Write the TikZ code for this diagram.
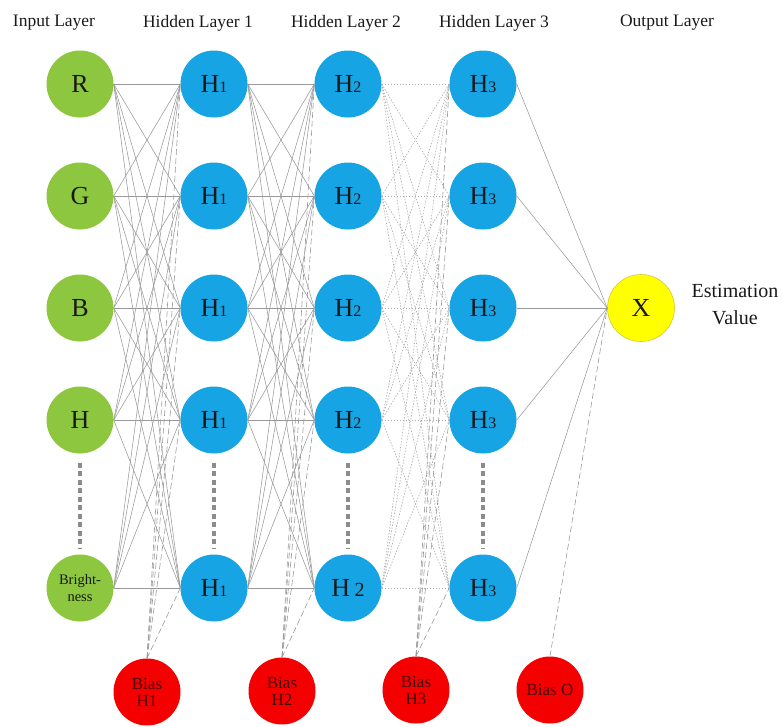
\documentclass[tikz,border=0pt]{standalone}
\usepackage{fontspec}
\setmainfont{Liberation Serif}
\definecolor{ngreen}{RGB}{141,198,63}
\definecolor{nblue}{RGB}{22,164,228}
\definecolor{nred}{RGB}{245,0,0}
\definecolor{nyellow}{RGB}{255,255,0}
\definecolor{nyeldraw}{RGB}{215,200,40}
\definecolor{ntext}{RGB}{25,25,25}
\definecolor{nbtext}{RGB}{70,10,10}
\newcommand{\Hs}[1]{H{\fontsize{16}{16}\selectfont #1}}
\begin{document}
\begin{tikzpicture}[x=1pt,y=-1pt,
  neuron/.style={circle, minimum size=67pt, inner sep=0pt, text=ntext, font=\fontsize{26}{26}\selectfont},
  inp/.style={neuron, fill=ngreen},
  hid/.style={neuron, fill=nblue},
  biasn/.style={neuron, fill=nred, align=center, text=nbtext, font=\fontsize{17}{17}\selectfont},
  outn/.style={neuron, fill=nyellow, draw=nyeldraw, line width=0.6pt},
  header/.style={text=ntext, font=\fontsize{17.5}{18}\selectfont},
  conn/.style={draw=gray!80, line width=0.55pt},
  bconn/.style={draw=gray!80, line width=0.6pt, dash pattern=on 6pt off 3pt},
  dconn/.style={draw=gray!65, line width=0.6pt, dash pattern=on 1.5pt off 1.5pt},
  vdots/.style={draw=gray!90, line width=3.2pt, dash pattern=on 5pt off 3.5pt, shorten <=9pt, shorten >=5pt}
]
\useasboundingbox (0,0) rectangle (782,726);

% headers
\node[header] (hIn) at (54,23) {Input Layer};
\node[header] (hH1) at (198,23) {Hidden Layer 1};
\node[header] (hH2) at (346,23) {Hidden Layer 2};
\node[header] (hH3) at (494,23) {Hidden Layer 3};
\node[header] (hOut) at (667,23) {Output Layer};

% input layer
\node[inp] (i1) at (80,84) {R};
\node[inp] (i2) at (80,196) {G};
\node[inp] (i3) at (80,308) {B};
\node[inp] (i4) at (80,420) {H};
\node[inp, align=center, font=\fontsize{14.5}{17}\selectfont] (i5) at (80,588) {Bright-\\ness};

% hidden layers
\foreach \r/\y in {1/84,2/196,3/308,4/420}{
  \node[hid] (a\r) at (214,\y) {\Hs{1}};
  \node[hid] (b\r) at (348,\y) {\Hs{2}};
  \node[hid] (c\r) at (483,\y) {\Hs{3}};
}
\node[hid] (a5) at (214,588) {\Hs{1}};
\node[hid] (b5) at (348,588) {H\,{\fontsize{20}{20}\selectfont 2}};
\node[hid] (c5) at (483,588) {\Hs{3}};

% output
\node[outn] (x) at (641,308) {X};
\node[text=ntext, align=center, font=\fontsize{20}{27}\selectfont] (est) at (735,305) {Estimation\\Value};

% bias nodes
\node[biasn] (ba) at (147,692) {Bias\\H1};
\node[biasn] (bb) at (282,691) {Bias\\H2};
\node[biasn] (bc) at (416,690) {Bias\\H3};
\node[biasn] (bo) at (550,690) {Bias O};

% vertical ellipsis dashes
\draw[vdots] (i4) -- (i5);
\draw[vdots] (a4) -- (a5);
\draw[vdots] (b4) -- (b5);
\draw[vdots] (c4) -- (c5);

% connections
\foreach \s in {1,...,5}{
  \foreach \t in {1,...,5}{
    \draw[conn] (i\s.east) -- (a\t.west);
    \draw[conn] (a\s.east) -- (b\t.west);
    \draw[dconn] (b\s.east) -- (c\t.west);
  }
  \draw[conn] (c\s.east) -- (x.west);
  \draw[bconn] (ba.north) -- (a\s.west);
  \draw[bconn] (bb.north) -- (b\s.west);
  \draw[bconn] (bc.north) -- (c\s.west);
}
\draw[bconn] (bo.north) -- (x.west);
\end{tikzpicture}
\end{document}
